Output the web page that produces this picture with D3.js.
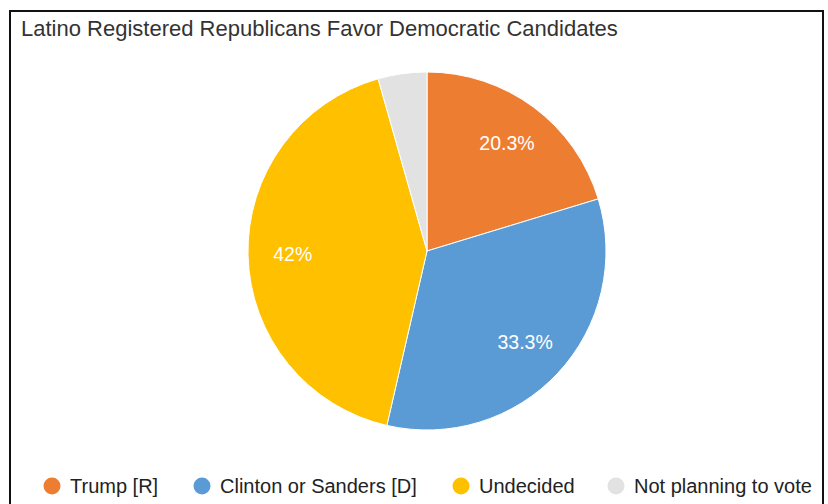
<!DOCTYPE html>
<html>
<head>
<meta charset="utf-8">
<script src="https://cdn.jsdelivr.net/npm/d3@7/dist/d3.min.js"></script>
<style>
  html, body { margin: 0; padding: 0; background: #fff; }
  svg { display: block; font-family: "Liberation Sans", Arial, sans-serif; }
</style>
</head>
<body>
<svg id="chart" width="828" height="504"></svg>
<script>
// Survey shares (percent) for each response
const categories = ["Trump [R]", "Clinton or Sanders [D]", "Undecided", "Not planning to vote"];
const shares = [20.3, 33.3, 42, 4.4];
const sliceLabels = ["20.3%", "33.3%", "42%", ""];
const colors = ["#ED7D31", "#5B9BD5", "#FFC000", "#E2E2E2"];
const title = "Latino Registered Republicans Favor Democratic Candidates";

const W = 828, H = 504;
const svg = d3.select("#chart");

// Frame around the chart
svg.append("rect")
  .attr("x", 10).attr("y", 11)
  .attr("width", 813).attr("height", H + 10)
  .attr("fill", "#fff")
  .attr("stroke", "#111").attr("stroke-width", 2);

// Title
svg.append("text")
  .attr("x", 21).attr("y", 36)
  .attr("font-size", 22)
  .attr("fill", "#333")
  .text(title);

// Pie
const cx = 427, cy = 251, r = 179;
const data = categories.map((c, i) => ({ name: c, value: shares[i], label: sliceLabels[i], color: colors[i] }));
const pie = d3.pie().sort(null).value(d => d.value).startAngle(0).endAngle(2 * Math.PI);
const arc = d3.arc().innerRadius(0).outerRadius(r);
const labelArc = d3.arc().innerRadius(r * 0.75).outerRadius(r * 0.75);

const g = svg.append("g").attr("transform", `translate(${cx},${cy})`);
const arcs = pie(data);

g.selectAll("path.slice")
  .data(arcs)
  .join("path")
  .attr("class", "slice")
  .attr("d", arc)
  .attr("fill", d => d.data.color)
  .attr("stroke", "#fff")
  .attr("stroke-width", 1);

g.selectAll("text.pct")
  .data(arcs.filter(d => d.data.label))
  .join("text")
  .attr("class", "pct")
  .attr("transform", d => `translate(${labelArc.centroid(d)})`)
  .attr("text-anchor", "middle")
  .attr("dy", "0.35em")
  .attr("font-size", 19.5)
  .attr("fill", "#fff")
  .text(d => d.data.label);

// Legend along the bottom
const legendX = [52, 202, 461, 616];
const legend = svg.append("g");
const items = legend.selectAll("g")
  .data(data)
  .join("g")
  .attr("transform", (d, i) => `translate(${legendX[i]},486)`);
items.append("circle")
  .attr("r", 8.5)
  .attr("fill", d => d.color);
items.append("text")
  .attr("x", 18)
  .attr("dy", "0.36em")
  .attr("font-size", 20)
  .attr("fill", "#222")
  .text(d => d.name);
</script>
</body>
</html>
